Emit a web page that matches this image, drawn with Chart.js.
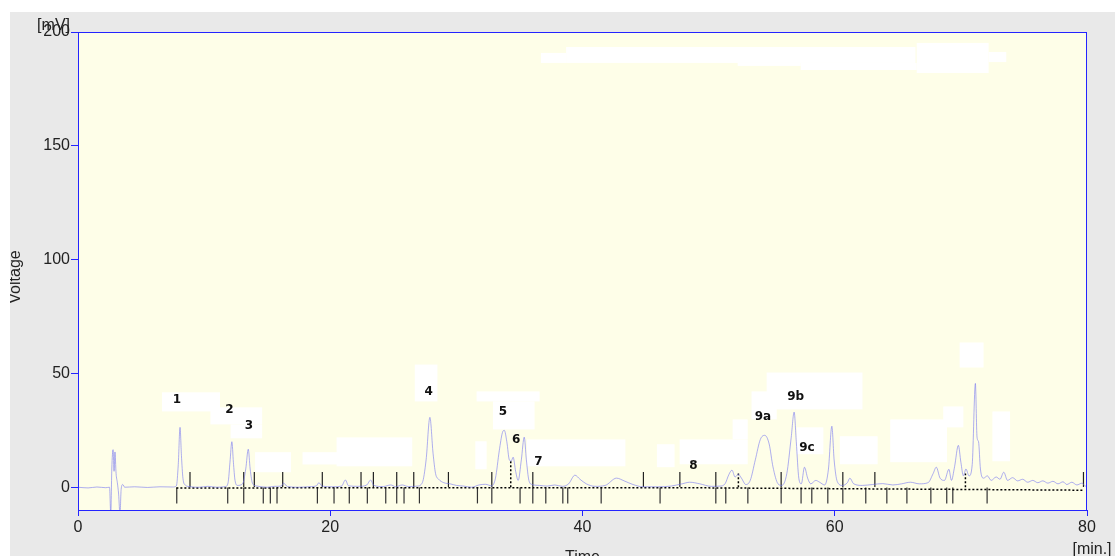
<!DOCTYPE html>
<html>
<head>
<meta charset="utf-8">
<title>Chromatogram</title>
<script src="https://cdn.jsdelivr.net/npm/chart.js@4/dist/chart.umd.min.js"></script>
<style>
  html, body { margin: 0; padding: 0; background: #ffffff; }
  #wrap { position: absolute; left: 10px; top: 12px; width: 1105px; height: 544px; background: #e9e9e9; overflow: hidden; }
</style>
</head>
<body>
<div id="wrap"><canvas id="chromChart" width="1105" height="544"></canvas></div>
<script>
// detector trace, time in min and signal in mV
const traceTime = [
  0, 0.8, 1.5, 2.2, 2.5, 2.6, 2.68, 2.78, 2.86, 2.93, 3.02, 3.12, 3.22, 3.33, 3.42, 3.55, 3.7,
  4.5, 5.5, 6.5, 7.5, 7.8, 7.95, 8.09, 8.2, 8.32, 8.5, 8.8, 9.6, 10.3, 11, 11.7,
  11.9, 12.05, 12.2, 12.32, 12.45, 12.65, 13.05, 13.3, 13.5, 13.65, 13.85, 14.2, 15, 15.6,
  16.1, 16.3, 16.6, 17.5, 18.5, 18.9, 19.1, 19.35, 20.2, 20.9, 21.2, 21.45, 22.3, 22.9,
  23.2, 23.45, 24.2, 24.8, 25.2, 25.7, 26.2, 26.9, 27.3, 27.6, 27.9, 28.15, 28.35, 28.6,
  29.0, 29.5, 30, 30.6, 31.2, 31.8, 32.3, 32.8, 33.1, 33.4, 33.65, 33.8, 34.0, 34.2,
  34.35, 34.5, 34.7, 34.9, 35.15, 35.38, 35.55, 35.75, 36.0, 36.6, 37.2, 37.8, 38.4,
  38.9, 39.4, 39.8, 40.3, 41, 41.8, 42.7, 43.3, 44, 44.8, 46, 47, 47.9, 48.5, 49.3,
  50.2, 50.9, 51.3, 51.6, 51.85, 52.1, 52.35, 52.6, 52.95, 53.3, 53.7, 54.1, 54.45,
  54.8, 55.1, 55.5, 55.8, 56.2, 56.55, 56.78, 56.95, 57.15, 57.35, 57.6, 57.85, 58.1,
  58.5, 58.8, 59.2, 59.5, 59.77, 59.95, 60.2, 60.6, 61.0, 61.2, 61.5, 62.2, 63, 63.8,
  64.6, 65.3, 66, 66.7, 67.4, 67.8, 68.05, 68.35, 68.7, 69.05, 69.25, 69.5, 69.8, 70.0,
  70.2, 70.4, 70.65, 70.9, 71.15, 71.28, 71.4, 71.55, 71.8, 72.1, 72.4, 72.8, 73.1,
  73.4, 73.7, 74.1, 74.5, 74.9, 75.3, 75.7, 76.1, 76.5, 76.9, 77.3, 77.7, 78.1, 78.4,
  78.8, 79.2, 79.6, 79.9, 80
];
const traceVolt = [
  0, -0.3, 0.1, -0.2, 0, -12, 8, 16.5, 7, 15.5, 6, 2, -3, -12, -1, 1.2, 0,
  0.2, -0.1, 0.2, 0.1, 0.6, 10, 26.3, 14, 4, 1, 0.3, 0, 0.4, 0, 0.3,
  2, 11, 20, 11, 3, 0.8, 1.5, 8, 16.7, 8, 1.5, 0.5, 0, 0.4,
  0.5, 1.8, 0.3, 0, 0.3, 0.6, 2, 0.5, 0.2, 0.5, 3.2, 0.6, 0.4, 1,
  3.2, 0.8, 0.3, 1, 0.2, 1, 0.3, 0.5, 2, 12, 30.7, 15, 6, 3.5,
  2, 1.5, 0.8, 0.5, 0, 1, 1.3, 0.6, 4, 16, 24, 25, 20, 12,
  11.5, 13.2, 7, 3, 12, 22, 12, 3, 1.2, 0.8, 0.5, 1, 0.4,
  1.5, 5.3, 3.5, 1.5, 0.4, 0.8, 4, 2.8, 1.2, 0.2, 0.2, 0.5, 1.5, 2.2, 1.5,
  0.4, 0.5, 1.5, 5.5, 7.5, 4.5, 5.7, 4, 1.2, 3, 12, 21, 22.8,
  19, 9, 1.5, 0.8, 6, 22, 33, 20, 4, 1.5, 8.8, 4, 1.5,
  3, 2.2, 1, 8, 26.8, 12, 2.5, 0.8, 2, 4, 1.5, 0.8, 1.2, 1.6,
  1, 1.5, 2.2, 1.5, 2, 6, 8.8, 4, 3, 7.9, 3, 9, 18.4, 11,
  5, 8, 5, 10, 45.6, 22, 20, 8, 4, 5, 3, 4.5, 3.5,
  6.6, 3, 4.2, 2.8, 3.5, 2.2, 3, 2, 2.8, 1.8, 2.6, 1.5, 2.4, 1.2,
  2.2, 1, 1.8, 0.4, 0.3
];

// integration baseline
const baseTime = [7.8, 47.7, 79.7];
const baseVolt = [-0.3, -0.2, -1.3];

// peak start/end marks (above and below the baseline)
const cutsUp = [8.88, 13.14, 13.98, 16.23, 19.37, 22.44, 23.42, 25.27, 26.62, 29.37, 32.81,
  36.06, 44.83, 47.72, 50.57, 55.75, 60.64, 63.18, 79.72];
const cutsDown = [7.83, 11.87, 13.14, 14.69, 15.25, 15.78, 18.98, 20.30, 21.51, 22.94, 24.40,
  25.27, 25.85, 27.07, 31.67, 32.81, 35.05, 36.06, 37.09, 38.44, 38.83, 41.48, 46.15, 50.57,
  51.36, 53.11, 55.75, 57.33, 58.18, 59.45, 60.64, 62.46, 64.13, 65.72, 67.62, 68.88, 69.36, 72.08];

// valley drop lines: time, height
const dropTime = [34.31, 52.36, 70.36];
const dropVolt = [12, 6, 6];

// peak names and where they are written
const peakNames = ['1', '2', '3', '4', '5', '6', '7', '8', '9a', '9b', '9c'];
const peakNameTime = [7.85, 12.0, 13.56, 27.8, 33.7, 34.75, 36.5, 48.8, 54.3, 56.9, 57.8];
const peakNameVolt = [38.6, 34.2, 26.8, 41.7, 33.3, 20.6, 11, 9.6, 31, 39.5, 17.5];

// blanked areas on the plot: t0, t1, vTop, vBottom
const blankAreas = [
  [36.7, 38.7, 190.8, 186.4], [38.7, 66.4, 193.4, 186.4], [52.3, 57.3, 186.4, 185.1],
  [57.3, 66.5, 186.4, 183.3], [66.5, 72.2, 195.2, 182.0], [72.2, 73.6, 191.2, 186.8],
  [6.66, 11.26, 41.7, 33.3], [10.5, 14.6, 35.1, 27.6], [12.1, 14.6, 27.6, 21.5],
  [14.04, 16.89, 15.4, 6.6], [17.8, 21.9, 15.4, 10.0], [20.5, 26.5, 21.9, 9.2],
  [26.7, 28.5, 53.9, 37.7], [31.5, 32.4, 20.2, 7.9], [31.6, 36.6, 42.1, 37.7],
  [32.9, 36.2, 37.7, 25.4], [35.6, 43.4, 21.0, 9.2], [45.9, 47.3, 18.9, 8.8],
  [47.7, 53.1, 21.0, 10.1], [51.9, 53.1, 29.8, 21.0], [53.4, 55.4, 42.1, 29.8],
  [54.6, 62.2, 50.4, 34.2], [57.0, 59.1, 26.3, 14.5], [60.4, 63.4, 22.4, 10.1],
  [64.4, 68.9, 29.8, 11.0], [68.6, 70.2, 35.5, 26.3], [69.9, 71.8, 63.6, 52.6],
  [72.5, 73.9, 33.3, 11.4]
];

const xTicks = [0, 20, 40, 60, 80];
const yTicks = [0, 50, 100, 150, 200];

const axisBlue = '#2424ff';
const textColor = '#222222';
const tickFont = { family: '"Liberation Sans", Arial, sans-serif', size: 16 };

const tracePoints = traceTime.map((t, i) => ({ x: t, y: traceVolt[i] }));
const basePoints = baseTime.map((t, i) => ({ x: t, y: baseVolt[i] }));
const upPoints = cutsUp.map(t => ({ x: t, y: 3.4 }));
const downPoints = cutsDown.map(t => ({ x: t, y: -3.6 }));
const dropPoints = [];
dropTime.forEach((t, i) => {
  dropPoints.push({ x: t, y: 0 }, { x: t, y: dropVolt[i] }, { x: t, y: null });
});

const plotDecor = {
  id: 'plotDecor',
  beforeDatasetsDraw(chart) {
    const { ctx, chartArea: a, scales: { x, y } } = chart;
    ctx.save();
    ctx.fillStyle = '#fefee8';
    ctx.fillRect(a.left, a.top, a.right - a.left, a.bottom - a.top);
    ctx.fillStyle = '#ffffff';
    blankAreas.forEach(([t0, t1, v0, v1]) => {
      const px0 = x.getPixelForValue(t0), px1 = x.getPixelForValue(t1);
      const py0 = y.getPixelForValue(v0), py1 = y.getPixelForValue(v1);
      ctx.fillRect(px0, py0, px1 - px0, py1 - py0);
    });
    ctx.restore();
  },
  afterDatasetsDraw(chart) {
    const { ctx, scales: { x, y } } = chart;
    ctx.save();
    ctx.fillStyle = '#111111';
    ctx.font = 'bold 12px "DejaVu Sans", Verdana, sans-serif';
    ctx.textAlign = 'center';
    ctx.textBaseline = 'middle';
    peakNames.forEach((name, i) => {
      ctx.fillText(name, x.getPixelForValue(peakNameTime[i]), y.getPixelForValue(peakNameVolt[i]));
    });
    ctx.restore();
  },
  afterDraw(chart) {
    const { ctx, chartArea: a } = chart;
    ctx.save();
    ctx.strokeStyle = axisBlue;
    ctx.lineWidth = 1;
    ctx.strokeRect(a.left + 0.5, a.top + 0.5, a.right - a.left - 1, a.bottom - a.top);
    ctx.fillStyle = textColor;
    ctx.font = '16px "Liberation Sans", Arial, sans-serif';
    ctx.textBaseline = 'alphabetic';
    ctx.textAlign = 'right';
    ctx.fillText('[mV]', a.left - 8, a.top - 2);
    ctx.textAlign = 'center';
    ctx.fillText('[min.]', a.right + 5, a.bottom + 44);
    ctx.fillText('Time', (a.left + a.right) / 2, a.bottom + 52);
    ctx.translate(a.left - 62, (a.top + a.bottom) / 2 + 6);
    ctx.rotate(-Math.PI / 2);
    ctx.textBaseline = 'middle';
    ctx.fillText('Voltage', 0, 0);
    ctx.restore();
  }
};

const ctx = document.getElementById('chromChart').getContext('2d');
const chromChart = new Chart(ctx, {
  type: 'line',
  data: {
    datasets: [
      {
        label: 'Signal',
        data: tracePoints,
        borderColor: 'rgba(120, 120, 240, 0.6)',
        borderWidth: 1,
        pointRadius: 0,
        cubicInterpolationMode: 'monotone',
        order: 1
      },
      {
        label: 'Baseline',
        data: basePoints,
        borderColor: '#000000',
        borderWidth: 1.5,
        borderDash: [2, 2],
        pointRadius: 0,
        order: 2
      },
      {
        label: 'Drop lines',
        data: dropPoints,
        borderColor: '#000000',
        borderWidth: 1.5,
        borderDash: [2, 2],
        pointRadius: 0,
        spanGaps: false,
        order: 3
      },
      {
        label: 'Start',
        data: upPoints,
        showLine: false,
        pointStyle: 'line',
        rotation: 90,
        pointRadius: 7.5,
        pointBorderColor: '#222222',
        pointBorderWidth: 1.2,
        order: 4
      },
      {
        label: 'End',
        data: downPoints,
        showLine: false,
        pointStyle: 'line',
        rotation: 90,
        pointRadius: 8,
        pointBorderColor: '#333333',
        pointBorderWidth: 1.2,
        order: 5
      }
    ]
  },
  options: {
    responsive: false,
    animation: false,
    devicePixelRatio: 1,
    layout: { padding: { left: 0, top: 20, right: 28, bottom: 0 } },
    plugins: {
      legend: { display: false },
      tooltip: { enabled: false }
    },
    scales: {
      x: {
        type: 'linear',
        min: 0,
        max: 80,
        afterBuildTicks: scale => { scale.ticks = xTicks.map(v => ({ value: v })); },
        afterFit: scale => { scale.height = 46; },
        grid: { drawOnChartArea: false, color: axisBlue, tickLength: 6 },
        border: { display: false },
        ticks: { color: textColor, font: tickFont, padding: 2, maxRotation: 0 }
      },
      y: {
        type: 'linear',
        min: -10,
        max: 200,
        afterBuildTicks: scale => { scale.ticks = yTicks.map(v => ({ value: v })); },
        afterFit: scale => { scale.width = 68; },
        grid: { drawOnChartArea: false, color: axisBlue, tickLength: 7 },
        border: { display: false },
        ticks: { color: textColor, font: tickFont, padding: 1 }
      }
    }
  },
  plugins: [plotDecor]
});
</script>
</body>
</html>
